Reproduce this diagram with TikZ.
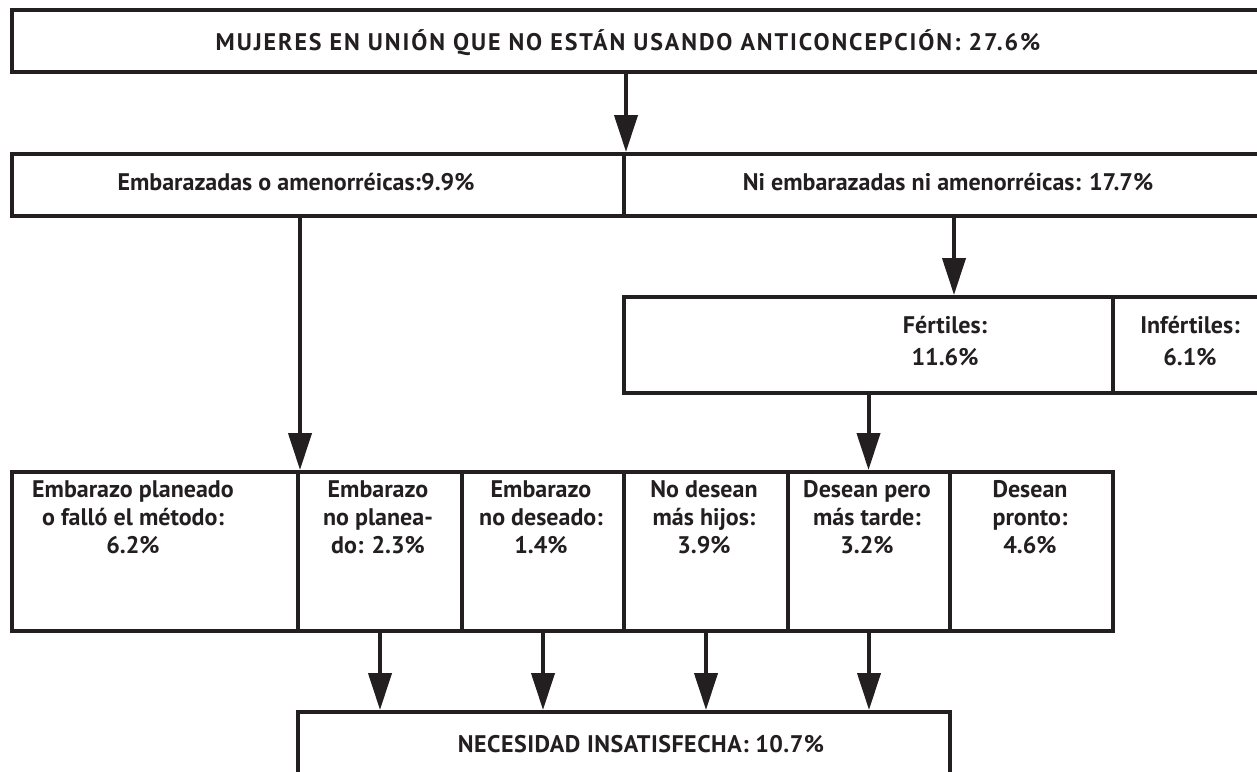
\documentclass[tikz,border=0pt]{standalone}
\usepackage{fontspec}
\setmainfont{PT Sans}
\usetikzlibrary{positioning, arrows.meta, calc}
\definecolor{ink}{RGB}{35,31,32}

\begin{document}
\begin{tikzpicture}[
    x=1pt, y=-1pt,
    cellbox/.style={
        rectangle,
        draw=ink,
        line width=4pt,
        anchor=north west,
        inner sep=0pt
    },
    lbl/.style={
        font=\bfseries\fontsize{24}{28}\selectfont,
        text=ink,
        align=center,
        inner sep=0pt
    },
    capslbl/.style={
        lbl,
        font=\bfseries\fontsize{24}{28}\selectfont\addfontfeature{LetterSpace=8}
    },
    arr/.style={
        -{Triangle[length=37pt, width=23pt]},
        line width=4pt,
        draw=ink
    }
]
    \useasboundingbox (0,0) rectangle (1257,771);
    \clip (0,0) rectangle (1257,771);
    \fill[white] (0,0) rectangle (1257,771);

    % Cells
    \node[cellbox, minimum width=1270pt, minimum height=62pt] (total) at (10,8) {};
    \node[cellbox, minimum width=612pt, minimum height=62pt] (embar) at (10,152) {};
    \node[cellbox, minimum width=660pt, minimum height=62pt] (noembar) at (622,152) {};
    \node[cellbox, minimum width=489pt, minimum height=96pt] (fert) at (622,295) {};
    \node[cellbox, minimum width=170pt, minimum height=96pt] (infert) at (1111,295) {};

    \node[cellbox, minimum width=286pt, minimum height=159pt] (planeado) at (10,470) {};
    \node[cellbox, minimum width=164pt, minimum height=159pt] (noplan) at (296,470) {};
    \node[cellbox, minimum width=162pt, minimum height=159pt] (nodes) at (460,470) {};
    \node[cellbox, minimum width=164pt, minimum height=159pt] (nomas) at (622,470) {};
    \node[cellbox, minimum width=162pt, minimum height=159pt] (tarde) at (786,470) {};
    \node[cellbox, minimum width=163pt, minimum height=159pt] (pronto) at (948,470) {};

    \node[cellbox, minimum width=652pt, minimum height=100pt] (nec) at (296,710) {};

    % Texts
    \node[capslbl, anchor=base] (totaltxt) at (628,50) {MUJERES EN UNIÓN QUE NO ESTÁN USANDO ANTICONCEPCIÓN: 27.6\%};
    \node[lbl, anchor=base] (embartxt) at (296,190) {Embarazadas o amenorréicas:9.9\%};
    \node[lbl, anchor=base] (noembartxt) at (948,190) {Ni embarazadas ni amenorréicas: 17.7\%};
    \node[lbl, anchor=north] (ferttxt) at (945,316) {Fértiles:\\[4pt]11.6\%};
    \node[lbl, anchor=north] (inferttxt) at (1190,316) {Infértiles:\\[4pt]6.1\%};

    \node[lbl, anchor=north] (planeadotxt) at (133,480) {Embarazo planeado\\o falló el método:\\6.2\%};
    \node[lbl, anchor=north] (noplantxt) at (378,480) {Embarazo\\no planea-\\do: 2.3\%};
    \node[lbl, anchor=north] (nodestxt) at (541,480) {Embarazo\\no deseado:\\1.4\%};
    \node[lbl, anchor=north] (nomastxt) at (704,480) {No desean\\más hijos:\\3.9\%};
    \node[lbl, anchor=north] (tardetxt) at (867,480) {Desean pero\\más tarde:\\3.2\%};
    \node[lbl, anchor=north] (prontotxt) at (1030,480) {Desean\\pronto:\\4.6\%};

    \node[capslbl, anchor=base, font=\bfseries\fontsize{24}{28}\selectfont\addfontfeature{LetterSpace=2}] (nectxt) at (641,752) {NECESIDAD INSATISFECHA: 10.7\%};

    % Arrows
    \draw[arr] (total.south -| embar.east) -- (embar.north east);
    \draw[arr] (planeado.north east |- embar.south) -- (planeado.north east);
    \draw[arr] (noembar.south) -- (noembar.south |- fert.north);
    \draw[arr] (fert.south) -- (fert.south |- tarde.north);

    \draw[arr] (noplan.south) -- (noplan.south |- nec.north);
    \draw[arr] (nodes.south) -- (nodes.south |- nec.north);
    \draw[arr] (nomas.south) -- (nomas.south |- nec.north);
    \draw[arr] (tarde.south) -- (tarde.south |- nec.north);

\end{tikzpicture}
\end{document}
